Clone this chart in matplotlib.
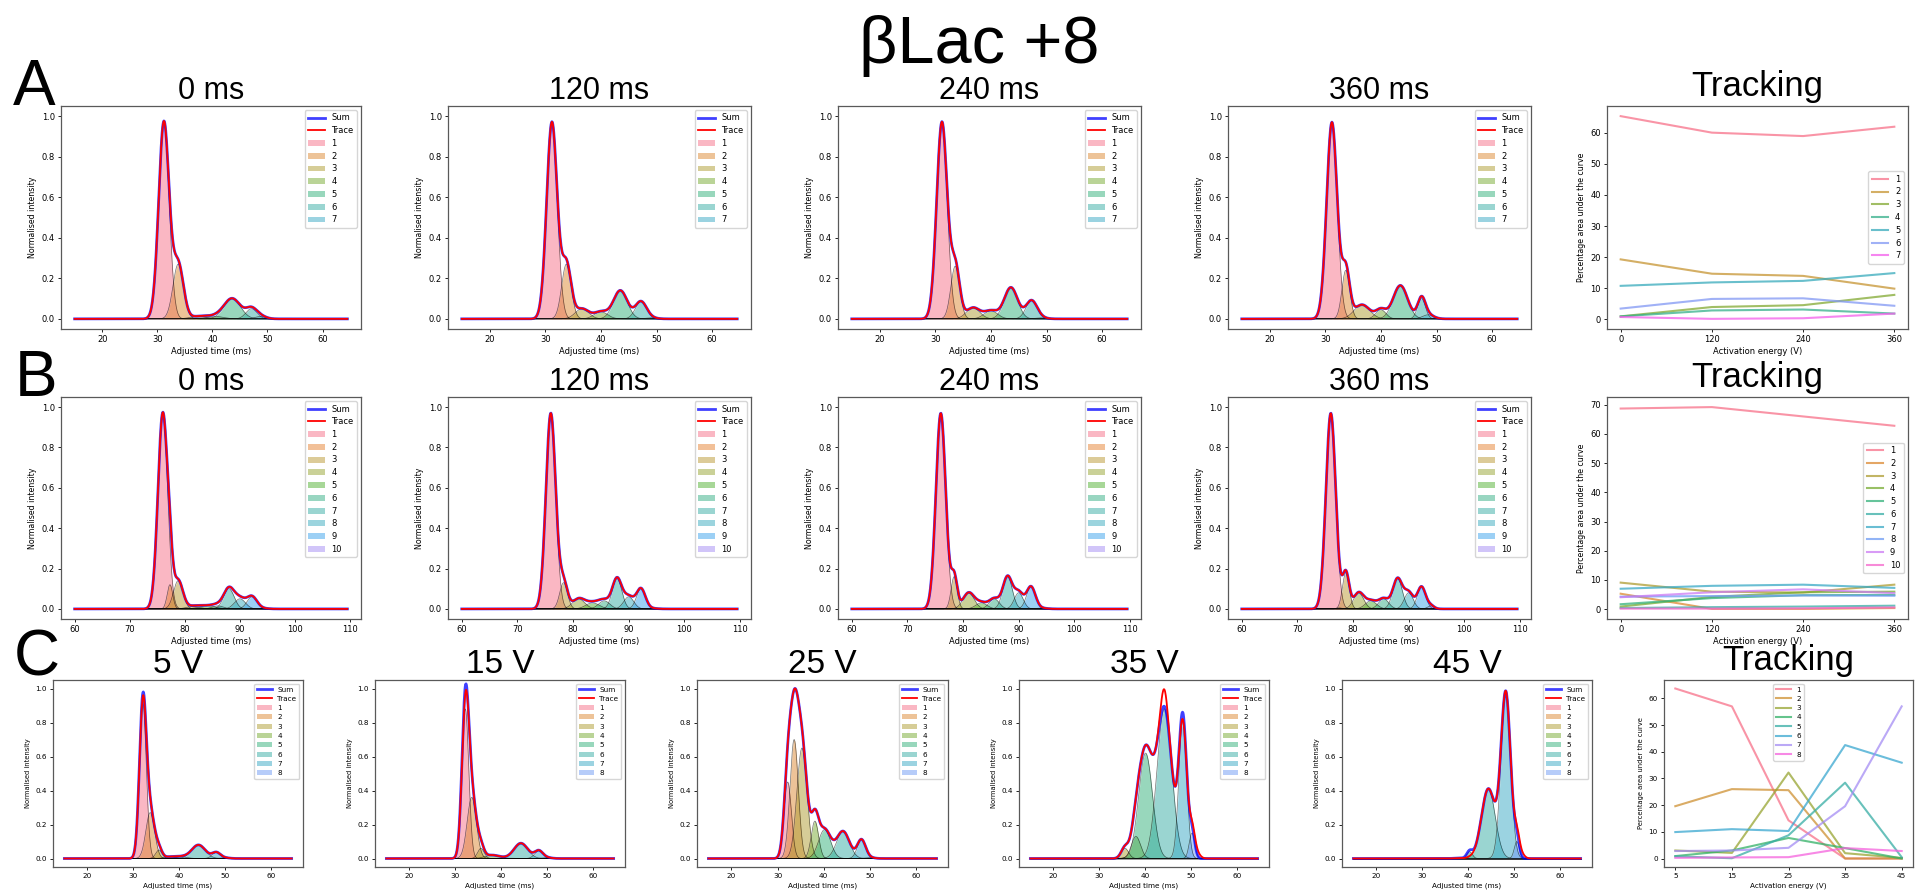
import numpy as np
import matplotlib.pyplot as plt
import seaborn as sns

# fitted gaussian components, one tuple per peak: (height, centre, width)
a_0ms = [(0.97, 31.2, 0.95), (0.27, 33.8, 0.95), (0.012, 37.5, 1.5), (0.012, 40.5, 1.5),
         (0.10, 43.6, 1.5), (0.05, 47.1, 1.0), (0.012, 48.8, 1.0)]
a_120ms = [(0.97, 31.2, 0.95), (0.27, 33.8, 0.85), (0.05, 36.6, 1.2), (0.035, 40.0, 1.2),
           (0.14, 43.5, 1.25), (0.085, 47.2, 1.0), (0.005, 49.0, 1.0)]
a_240ms = [(0.97, 31.2, 0.95), (0.26, 33.6, 0.8), (0.055, 36.8, 1.2), (0.04, 40.0, 1.2),
           (0.155, 43.6, 1.2), (0.09, 47.3, 1.0), (0.005, 49.0, 1.0)]
a_360ms = [(0.97, 31.2, 0.95), (0.24, 33.7, 0.7), (0.07, 36.6, 1.4), (0.045, 40.0, 0.9),
           (0.165, 43.5, 1.3), (0.10, 47.3, 0.7), (0.02, 48.5, 1.0)]

b_0ms = [(0.97, 76.0, 0.88), (0.12, 77.3, 0.5), (0.14, 78.8, 0.85), (0.012, 81.5, 1.2),
         (0.015, 84.0, 1.5), (0.015, 86.0, 1.0), (0.10, 88.0, 0.95), (0.05, 90.0, 1.0),
         (0.06, 92.2, 0.9), (0.003, 94.0, 1.0)]
b_120ms = [(0.97, 76.0, 0.88), (0.003, 77.5, 0.5), (0.13, 78.3, 0.7), (0.05, 81.0, 1.1),
           (0.03, 83.5, 1.2), (0.04, 85.6, 1.0), (0.15, 87.9, 0.85), (0.06, 90.0, 0.9),
           (0.10, 92.2, 0.8), (0.003, 94.0, 1.0)]
b_240ms = [(0.97, 76.0, 0.88), (0.003, 77.5, 0.5), (0.16, 78.4, 0.55), (0.08, 81.0, 1.0),
           (0.03, 83.3, 1.0), (0.05, 85.6, 0.9), (0.16, 88.0, 0.85), (0.08, 90.0, 0.8),
           (0.11, 92.2, 0.8), (0.004, 94.0, 1.0)]
b_360ms = [(0.97, 76.0, 0.88), (0.005, 77.5, 0.5), (0.18, 78.7, 0.6), (0.08, 81.0, 0.9),
           (0.04, 83.2, 1.0), (0.05, 85.5, 0.9), (0.15, 88.0, 0.85), (0.08, 90.0, 0.8),
           (0.11, 92.3, 0.75), (0.015, 94.0, 0.6)]

c_5v = [(0.91, 32.1, 0.75), (0.27, 33.7, 0.95), (0.05, 35.6, 0.7), (0.01, 38.0, 1.2),
        (0.01, 40.5, 1.2), (0.08, 44.2, 1.5), (0.035, 48.1, 0.9), (0.004, 50.0, 1.0)]
c_15v = [(0.88, 32.2, 0.75), (0.36, 33.6, 1.0), (0.06, 35.6, 0.7), (0.02, 38.0, 1.5),
         (0.002, 40.5, 1.2), (0.09, 44.3, 1.5), (0.045, 48.2, 0.9), (0.005, 50.0, 1.0)]
c_25v = [(0.45, 32.2, 0.8), (0.70, 33.6, 0.9), (0.65, 35.3, 1.1), (0.22, 38.1, 0.8),
         (0.17, 40.2, 1.3), (0.16, 44.2, 1.4), (0.11, 48.2, 0.9), (0.005, 50.0, 1.0)]
c_35v = [(0.0, 33.0, 1.0), (0.003, 35.3, 0.8), (0.06, 35.6, 0.8), (0.13, 38.0, 1.0),
         (0.62, 40.1, 1.5), (0.88, 44.2, 1.6), (0.82, 48.2, 0.85), (0.15, 50.2, 0.6)]
c_45v = [(0.0, 33.0, 1.0), (0.0, 35.0, 1.0), (0.003, 38.0, 1.0), (0.0, 39.0, 1.0),
         (0.04, 40.3, 0.6), (0.41, 44.4, 1.5), (0.97, 48.2, 1.05), (0.10, 50.6, 0.55)]

# where the measured trace differs from the fitted sum
c_5v_resid = [(-0.02, 32.0, 0.5)]
c_15v_resid = [(-0.045, 32.0, 0.5)]
c_35v_resid = [(0.10, 44.1, 0.7), (-0.04, 48.2, 0.4), (0.04, 51.0, 0.8)]
c_45v_resid = [(-0.035, 40.3, 0.6), (0.04, 51.2, 0.8)]

# tracking: percentage area under the curve per component
track_ab_x = [0, 120, 240, 360]
track_a = [[65.3, 60.0, 58.9, 61.9],
           [19.3, 14.7, 14.0, 9.9],
           [1.0, 4.0, 4.6, 7.9],
           [1.0, 2.9, 3.2, 1.9],
           [10.8, 11.9, 12.4, 14.9],
           [3.5, 6.6, 6.8, 4.4],
           [0.8, 0.2, 0.4, 1.9]]
track_b = [[68.7, 69.2, 66.0, 62.8],
           [5.3, 0.1, 0.1, 0.4],
           [9.1, 6.0, 5.7, 8.4],
           [0.9, 4.2, 5.8, 6.0],
           [1.7, 3.8, 4.8, 4.9],
           [0.4, 0.7, 0.9, 1.2],
           [7.0, 8.0, 8.4, 7.3],
           [4.3, 4.5, 4.7, 4.6],
           [4.1, 5.8, 6.8, 5.5],
           [0.2, 0.2, 0.3, 0.6]]
track_c_x = [5, 15, 25, 35, 45]
track_c = [[63.7, 57.0, 14.3, 0.0, 0.0],
           [19.6, 26.0, 25.6, 0.0, 0.0],
           [3.0, 2.1, 32.2, 2.0, 0.2],
           [0.9, 3.0, 7.7, 3.9, 0.0],
           [0.8, 0.1, 8.7, 28.4, 0.5],
           [9.9, 11.0, 10.3, 42.5, 35.9],
           [2.8, 3.0, 4.0, 19.6, 57.0],
           [0.25, 0.4, 0.5, 3.9, 2.8]]

TITLE_FONT = ['Liberation Sans', 'DejaVu Sans']
W, H = 1925, 893


def box(l, t, r, b):
    return [l / W, 1 - b / H, (r - l) / W, (b - t) / H]


def gauss(x, peaks):
    return [a * np.exp(-(x - m) ** 2 / (2 * s ** 2)) for a, m, s in peaks]


def style(ax, fs):
    ax.tick_params(labelsize=fs, length=2.5, width=0.6, pad=2)
    for sp in ax.spines.values():
        sp.set_color('0.35')
        sp.set_linewidth(0.9)


def draw_fit(ax, x, peaks, colors, title, fs, tfs, resid=None):
    comps = gauss(x, peaks)
    total = np.sum(comps, axis=0)
    trace = total + np.sum(gauss(x, resid), axis=0) if resid else total
    handles = []
    for i, g in enumerate(comps):
        h = ax.fill_between(x, 0, g, color=colors[i], alpha=0.5, lw=0, label=str(i + 1))
        ax.plot(x, g, color='k', lw=0.5, alpha=0.55)
        handles.append(h)
    l1, = ax.plot(x, total, color='blue', lw=2, alpha=0.75, label='Sum', zorder=3)
    l2, = ax.plot(x, trace, color='red', lw=1.3, label='Trace', zorder=4)
    ax.legend(handles=[l1, l2] + handles, loc='upper right', fontsize=fs,
              handlelength=2.0, labelspacing=0.45, borderpad=0.4)
    ax.set_ylim(-0.05, 1.05)
    ax.set_yticks([0, 0.2, 0.4, 0.6, 0.8, 1.0])
    ax.set_xlabel('Adjusted time (ms)', fontsize=fs, labelpad=2)
    ax.set_ylabel('Normalised intensity', fontsize=fs - 0.3, labelpad=3)
    ax.set_title(title, fontsize=tfs, family=TITLE_FONT, pad=5)
    style(ax, fs)


def draw_track(ax, xs, series, colors, loc, fs, tfs):
    for i, ys in enumerate(series):
        ax.plot(xs, ys, color=colors[i], lw=1.5, alpha=0.75, label=str(i + 1))
    ax.set_xticks(xs)
    ax.legend(loc=loc, fontsize=fs, labelspacing=0.45, borderpad=0.4)
    ax.set_xlabel('Activation energy (V)', fontsize=fs, labelpad=2)
    ax.set_ylabel('Percentage area under the curve', fontsize=fs - 0.3, labelpad=3)
    ax.set_title('Tracking', fontsize=tfs, family=TITLE_FONT, pad=7)
    style(ax, fs)


fig = plt.figure(figsize=(W / 100, H / 100), dpi=100)

x_a = np.linspace(15, 64.5, 600)
x_b = np.linspace(60, 109.5, 600)

pal_a = sns.color_palette('husl', 10)[:7]
pal_b = sns.color_palette('husl', 12)[:10]
pal_c = sns.color_palette('husl', 10)[:8]

ab_cols = [(61, 361), (448, 751), (838, 1141), (1228, 1531)]
titles_ab = ['0 ms', '120 ms', '240 ms', '360 ms']

for (l, r), peaks, t in zip(ab_cols, [a_0ms, a_120ms, a_240ms, a_360ms], titles_ab):
    ax = fig.add_axes(box(l, 106, r, 329))
    draw_fit(ax, x_a, peaks, pal_a, t, 6, 22)
ax = fig.add_axes(box(1607, 106, 1908, 329))
draw_track(ax, track_ab_x, track_a, sns.color_palette('husl', 7), 'center right', 6, 25)

for (l, r), peaks, t in zip(ab_cols, [b_0ms, b_120ms, b_240ms, b_360ms], titles_ab):
    ax = fig.add_axes(box(l, 397, r, 619))
    draw_fit(ax, x_b, peaks, pal_b, t, 6, 22)
ax = fig.add_axes(box(1607, 397, 1908, 619))
draw_track(ax, track_ab_x, track_b, sns.color_palette('husl', 10), 'center right', 6, 25)

c_cols = [(53, 303), (375, 625), (697, 948), (1019, 1269), (1342, 1592)]
c_peaks = [c_5v, c_15v, c_25v, c_35v, c_45v]
c_resid = [c_5v_resid, c_15v_resid, None, c_35v_resid, c_45v_resid]
titles_c = ['5 V', '15 V', '25 V', '35 V', '45 V']
for (l, r), peaks, res, t in zip(c_cols, c_peaks, c_resid, titles_c):
    ax = fig.add_axes(box(l, 680, r, 867))
    draw_fit(ax, x_a, peaks, pal_c, t, 5.2, 24, res)
ax = fig.add_axes(box(1664, 680, 1913, 867))
draw_track(ax, track_c_x, track_c, sns.color_palette('husl', 8), 'upper center', 5.2, 25)

fig.text(979 / W, 1 - 63 / H, 'βLac +8', fontsize=48, family=TITLE_FONT,
         ha='center', va='baseline')
for letter, (lx, ly) in zip('ABC', [(13, 105), (15, 396), (14, 676)]):
    fig.text(lx / W, 1 - ly / H, letter, fontsize=46, family=TITLE_FONT,
             ha='left', va='baseline')

fig.savefig('out.png', dpi=100)
